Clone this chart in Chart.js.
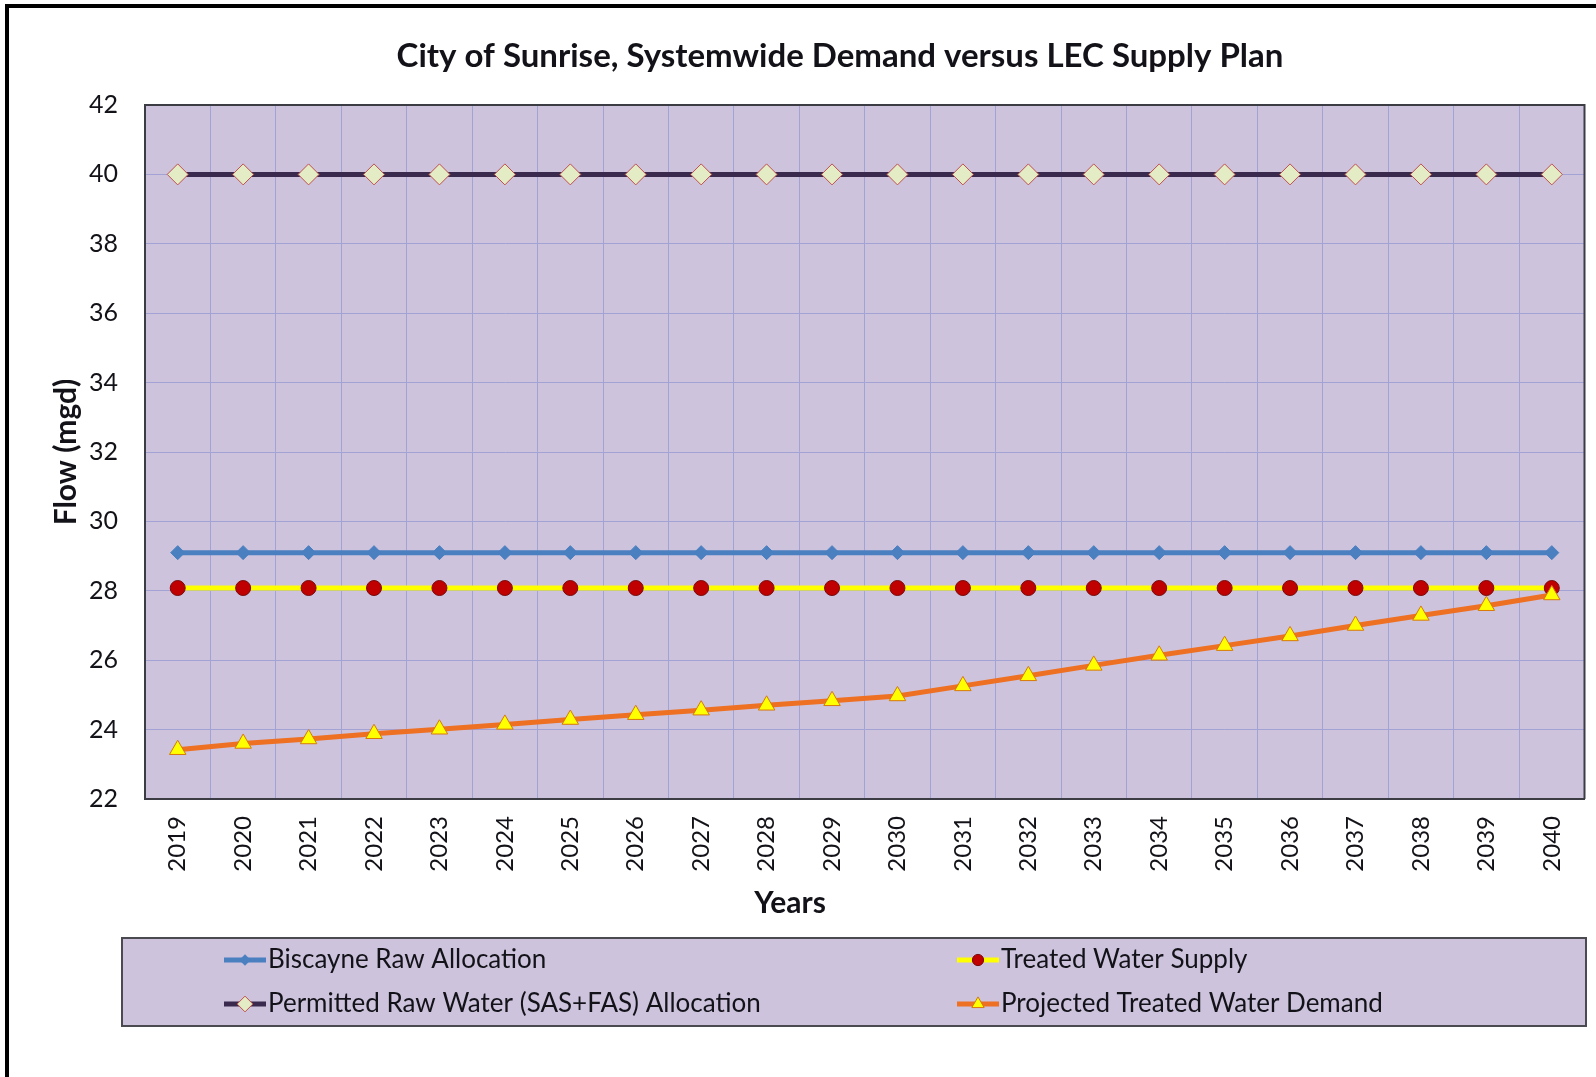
<!DOCTYPE html>
<html>
<head>
<meta charset="utf-8">
<title>City of Sunrise, Systemwide Demand versus LEC Supply Plan</title>
<script src="https://cdn.jsdelivr.net/npm/chart.js@4.4.0/dist/chart.umd.min.js"></script>
<style>
  html, body { margin: 0; padding: 0; background: #fff; }
  #wrap { position: relative; width: 1596px; height: 1077px; }
</style>
</head>
<body>
<div id="wrap"><canvas id="sunrise-chart" width="1596" height="1077"></canvas></div>
<script>
// data (mgd)
const years = ['2019', '2020', '2021', '2022', '2023', '2024', '2025', '2026', '2027', '2028', '2029',
  '2030', '2031', '2032', '2033', '2034', '2035', '2036', '2037', '2038', '2039', '2040'];

const biscayneRaw = [29.1, 29.1, 29.1, 29.1, 29.1, 29.1, 29.1, 29.1, 29.1, 29.1, 29.1,
  29.1, 29.1, 29.1, 29.1, 29.1, 29.1, 29.1, 29.1, 29.1, 29.1, 29.1];
const permittedRaw = [40, 40, 40, 40, 40, 40, 40, 40, 40, 40, 40,
  40, 40, 40, 40, 40, 40, 40, 40, 40, 40, 40];
const treatedSupply = [28.08, 28.08, 28.08, 28.08, 28.08, 28.08, 28.08, 28.08, 28.08, 28.08, 28.08,
  28.08, 28.08, 28.08, 28.08, 28.08, 28.08, 28.08, 28.08, 28.08, 28.08, 28.08];
const projectedDemand = [23.42, 23.6, 23.73, 23.88, 24.01, 24.15, 24.29, 24.43, 24.56, 24.7, 24.83,
  24.97, 25.26, 25.55, 25.85, 26.14, 26.42, 26.7, 27.0, 27.29, 27.57, 27.88];

const yTicks = [22, 24, 26, 28, 30, 32, 34, 36, 38, 40, 42];

const chartTitle = 'City of Sunrise, Systemwide Demand versus LEC Supply Plan';
const xTitle = 'Years';
const yTitle = 'Flow (mgd)';

const plotBg = '#cdc3dd';
const gridColor = '#a3a2d4';
const axisColor = '#3c3c44';
const textColor = '#121218';
const FONT = 'Lato, "Open Sans", sans-serif';

// frame, background, titles and the boxed legend
const decor = {
  id: 'decor',
  beforeDraw(chart) {
    const { ctx, chartArea: a } = chart;
    ctx.save();
    ctx.fillStyle = '#fff';
    ctx.fillRect(0, 0, chart.width, chart.height);
    // black outer frame (left and top visible)
    ctx.fillStyle = '#000';
    ctx.fillRect(5, 4, 4, chart.height - 4);
    ctx.fillRect(5, 4, chart.width - 5, 4);
    ctx.fillStyle = plotBg;
    ctx.fillRect(a.left, a.top, a.right - a.left, a.bottom - a.top);
    ctx.restore();
  },
  afterDraw(chart) {
    const { ctx, chartArea: a } = chart;
    ctx.save();
    ctx.strokeStyle = axisColor;
    ctx.lineWidth = 2;
    ctx.beginPath();
    ctx.moveTo(a.left, a.top);
    ctx.lineTo(a.right, a.top);
    ctx.lineTo(a.right, a.bottom);
    ctx.stroke();

    ctx.fillStyle = textColor;
    ctx.textAlign = 'center';
    ctx.textBaseline = 'middle';
    ctx.font = 'bold 33px ' + FONT;
    ctx.fillText(chartTitle, 840, 56);
    ctx.font = 'bold 30px ' + FONT;
    ctx.fillText(xTitle, 790, 903);

    // legend box
    const box = { x: 122, y: 938, w: 1464, h: 88 };
    ctx.fillStyle = plotBg;
    ctx.fillRect(box.x, box.y, box.w, box.h);
    ctx.strokeStyle = '#4a4a50';
    ctx.lineWidth = 2;
    ctx.strokeRect(box.x, box.y, box.w, box.h);

    const cols = [224, 957];
    const rows = [960, 1004];
    chart.data.datasets.forEach((ds, i) => {
      const x = cols[Math.floor(i / 2)];
      const y = rows[i % 2];
      ctx.strokeStyle = ds.borderColor;
      ctx.lineWidth = ds.borderWidth;
      ctx.beginPath();
      ctx.moveTo(x, y);
      ctx.lineTo(x + 42, y);
      ctx.stroke();
      ctx.fillStyle = ds.pointBackgroundColor;
      ctx.strokeStyle = ds.pointBorderColor;
      ctx.lineWidth = ds.pointBorderWidth;
      Chart.helpers.drawPoint(ctx, {
        pointStyle: ds.pointStyle,
        radius: ds.pointRadius * 0.75,
        rotation: 0,
        borderWidth: ds.pointBorderWidth
      }, x + 21, y);
      ctx.fillStyle = textColor;
      ctx.textAlign = 'left';
      ctx.font = '26px ' + FONT;
      ctx.fillText(ds.label, x + 44, y);
    });
    ctx.restore();
  }
};

const ctx = document.getElementById('sunrise-chart').getContext('2d');

new Chart(ctx, {
  type: 'line',
  data: {
    labels: years,
    datasets: [
      {
        label: 'Biscayne Raw Allocation',
        data: biscayneRaw,
        borderColor: '#4a7fc0',
        borderWidth: 5,
        pointStyle: 'rectRot',
        pointRadius: 7,
        pointBackgroundColor: '#4a7fc0',
        pointBorderColor: '#4a7fc0',
        pointBorderWidth: 1,
        order: 4
      },
      {
        label: 'Permitted Raw Water (SAS+FAS) Allocation',
        data: permittedRaw,
        borderColor: '#3a2b4e',
        borderWidth: 5,
        pointStyle: 'rectRot',
        pointRadius: 10.5,
        pointBackgroundColor: '#e4ecc6',
        pointBorderColor: '#c0504d',
        pointBorderWidth: 1,
        order: 3
      },
      {
        label: 'Treated Water Supply',
        data: treatedSupply,
        borderColor: '#ffff00',
        borderWidth: 5,
        pointStyle: 'circle',
        pointRadius: 7.5,
        pointBackgroundColor: '#c00000',
        pointBorderColor: '#7a0a0a',
        pointBorderWidth: 1,
        order: 2
      },
      {
        label: 'Projected Treated Water Demand',
        data: projectedDemand,
        borderColor: '#ee7022',
        borderWidth: 5,
        pointStyle: 'triangle',
        pointRadius: 9.5,
        pointBackgroundColor: '#ffff00',
        pointBorderColor: '#d8780a',
        pointBorderWidth: 1,
        order: 1
      }
    ]
  },
  options: {
    responsive: false,
    animation: false,
    devicePixelRatio: 1,
    layout: { padding: { left: 0, top: 105, right: 5, bottom: 198 } },
    elements: { line: { tension: 0 } },
    plugins: {
      legend: { display: false },
      title: { display: false },
      tooltip: { enabled: false }
    },
    scales: {
      x: {
        type: 'category',
        offset: true,
        grid: { color: gridColor, lineWidth: 1, drawTicks: false, offset: true },
        border: { color: axisColor, width: 2 },
        ticks: {
          autoSkip: false,
          minRotation: 90,
          maxRotation: 90,
          padding: 17,
          color: textColor,
          font: { family: FONT, size: 24 }
        },
        afterFit(scale) {
          scale.height = 80;
          // rotated labels sit inside their categories, no side padding needed
          scale.paddingLeft = 0;
          scale.paddingRight = 0;
        }
      },
      y: {
        min: 22,
        max: 42,
        afterBuildTicks(scale) { scale.ticks = yTicks.map(v => ({ value: v })); },
        grid: { color: gridColor, lineWidth: 1, drawTicks: false },
        border: { color: axisColor, width: 2 },
        ticks: {
          padding: 27,
          color: textColor,
          font: { family: FONT, size: 25 }
        },
        title: {
          display: true,
          text: yTitle,
          color: textColor,
          font: { family: FONT, size: 30, weight: 'bold' },
          padding: { top: 48, bottom: 0 }
        },
        afterFit(scale) { scale.width = 145; }
      }
    }
  },
  plugins: [decor]
});
</script>
</body>
</html>
